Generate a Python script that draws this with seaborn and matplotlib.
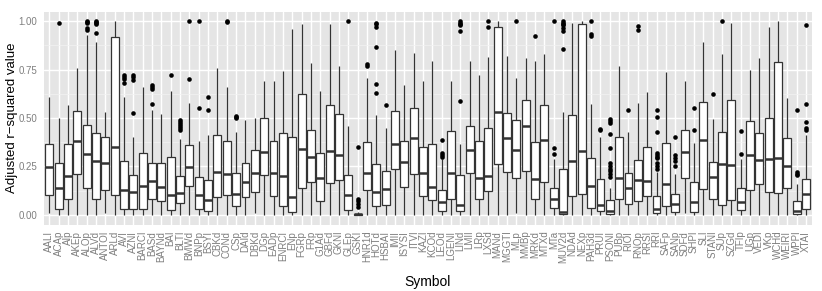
import numpy as np
import pandas as pd
import matplotlib
matplotlib.use("Agg")
import matplotlib.pyplot as plt
import seaborn as sns

symbols = ["AALI", "ACAp", "AIp", "AKEp", "ALOp", "ALVd", "ANTOI", "ARLd", "AVI", "AZNI",
           "BARCI", "BASd", "BAYNd", "BAI", "BLTI", "BMWd", "BNPp", "BSYI", "CBKd", "CONd",
           "CSp", "DAId", "DBKd", "DGp", "EADp", "ENRCI", "ENp", "FGRp", "FRp", "G1Ad",
           "GBFd", "GKNI", "GLEp", "GSKI", "HNR1d", "HOTd", "HSBAI", "IMII", "ISYSI", "ITVI",
           "KAZI", "KCOd", "LEOd", "LGENI", "LINd", "LMII", "LRp", "LXSd", "MANd", "MGGTI",
           "MLp", "MMBp", "MRKd", "MTXd", "MTa", "MUV2d", "NDAd", "NEXp", "PAH3d", "PRUI",
           "PSONI", "PUBp", "RIOI", "RNOp", "RRSI", "RRI", "SAFp", "SANp", "SDFd", "SHPI",
           "SLI", "STANI", "SUp", "SZGd", "TFIp", "UGp", "VEDI", "VKp", "WCHd", "WEIRI",
           "WPPI", "XTAI"]

whisker_low = [0.01, 0.0, 0.0, 0.0, 0.0, 0.0, 0.01, 0.0, 0.0, 0.0,
               0.0, 0.0, 0.0, 0.0, 0.0, 0.0, 0.0, 0.0, 0.0, 0.0,
               0.0, 0.0, 0.01, 0.0, 0.0, 0.0, 0.0, 0.0, 0.0, 0.0,
               0.0, 0.0, 0.0, 0.0, 0.0, 0.0, 0.0, 0.0, 0.0, 0.0,
               0.0, 0.0, 0.0, 0.0, 0.0, 0.0, 0.0, 0.0, 0.0, 0.0,
               0.01, 0.0, 0.0, 0.0, 0.0, 0.0, 0.0, 0.0, 0.0, 0.0,
               0.0, 0.0, 0.0, 0.0, 0.0, 0.0, 0.0, 0.0, 0.01, 0.0,
               0.0, 0.0, 0.0, 0.0, 0.0, 0.0, 0.0, 0.0, 0.0, 0.0,
               0.0, 0.0]
q1 = [0.10, 0.03, 0.08, 0.21, 0.14, 0.08, 0.13, 0.10, 0.03, 0.03,
      0.03, 0.08, 0.07, 0.025, 0.06, 0.15, 0.03, 0.02, 0.09, 0.10,
      0.045, 0.09, 0.117, 0.206, 0.096, 0.048, 0.014, 0.139, 0.167, 0.072,
      0.163, 0.179, 0.027, 0.0, 0.127, 0.045, 0.05, 0.239, 0.146, 0.21,
      0.098, 0.076, 0.019, 0.082, 0.019, 0.218, 0.08, 0.125, 0.263, 0.223,
      0.192, 0.228, 0.082, 0.167, 0.036, 0.003, 0.098, 0.108, 0.033, 0.02,
      0.005, 0.08, 0.055, 0.072, 0.098, 0.009, 0.048, 0.015, 0.189, 0.012,
      0.132, 0.08, 0.05, 0.076, 0.026, 0.127, 0.16, 0.117, 0.115, 0.139,
      0.002, 0.029]
median = [0.245, 0.14, 0.20, 0.38, 0.315, 0.28, 0.27, 0.35, 0.13, 0.12,
          0.15, 0.175, 0.145, 0.10, 0.115, 0.245, 0.10, 0.075, 0.22, 0.21,
          0.105, 0.172, 0.216, 0.325, 0.215, 0.20, 0.093, 0.34, 0.30, 0.19,
          0.328, 0.31, 0.10, 0.002, 0.218, 0.117, 0.134, 0.366, 0.273, 0.395,
          0.215, 0.144, 0.065, 0.215, 0.053, 0.337, 0.19, 0.198, 0.533, 0.397,
          0.335, 0.457, 0.184, 0.385, 0.081, 0.017, 0.278, 0.33, 0.151, 0.053,
          0.022, 0.189, 0.136, 0.179, 0.175, 0.031, 0.158, 0.055, 0.323, 0.065,
          0.385, 0.194, 0.26, 0.256, 0.064, 0.308, 0.284, 0.29, 0.294, 0.253,
          0.022, 0.108]
q3 = [0.365, 0.27, 0.365, 0.535, 0.465, 0.42, 0.40, 0.92, 0.28, 0.205,
      0.32, 0.27, 0.27, 0.30, 0.20, 0.36, 0.195, 0.18, 0.41, 0.38,
      0.215, 0.266, 0.333, 0.498, 0.38, 0.42, 0.404, 0.622, 0.44, 0.318,
      0.565, 0.52, 0.206, 0.005, 0.378, 0.263, 0.225, 0.536, 0.38, 0.55,
      0.35, 0.368, 0.127, 0.433, 0.204, 0.459, 0.38, 0.448, 0.971, 0.526,
      0.488, 0.593, 0.378, 0.569, 0.141, 0.237, 0.517, 0.988, 0.292, 0.186,
      0.074, 0.404, 0.215, 0.282, 0.349, 0.095, 0.371, 0.108, 0.44, 0.167,
      0.584, 0.275, 0.426, 0.591, 0.137, 0.485, 0.423, 0.50, 0.79, 0.395,
      0.072, 0.184]
whisker_high = [0.61, 0.50, 0.565, 0.76, 0.93, 0.89, 0.53, 1.0, 0.61, 0.40,
                0.66, 0.54, 0.52, 0.64, 0.39, 0.58, 0.38, 0.41, 0.76, 0.66,
                0.43, 0.49, 0.50, 0.69, 0.69, 0.745, 0.96, 0.985, 0.785, 0.64,
                0.985, 0.766, 0.457, 0.012, 0.706, 0.514, 0.45, 0.85, 0.668, 0.837,
                0.69, 0.794, 0.29, 0.692, 0.366, 0.792, 0.72, 0.813, 1.0, 0.82,
                0.704, 0.81, 0.794, 0.83, 0.287, 0.533, 0.993, 1.0, 0.572, 0.402,
                0.137, 0.771, 0.43, 0.576, 0.634, 0.22, 0.737, 0.21, 0.69, 0.371,
                0.892, 0.497, 0.83, 0.991, 0.29, 0.746, 0.811, 0.971, 1.0, 0.603,
                0.158, 0.414]
outliers = {
    "ACAp": [0.99],
    "ALOp": [1.0, 0.995, 0.99, 0.965, 0.955],
    "ALVd": [1.0, 0.995, 0.99, 0.985, 0.94],
    "AVI": [0.72, 0.71, 0.70, 0.68],
    "AZNI": [0.72, 0.71, 0.695, 0.525],
    "BASd": [0.67, 0.66, 0.65, 0.57],
    "BAI": [0.72],
    "BLTI": [0.49, 0.48, 0.47, 0.46, 0.45, 0.44],
    "BMWd": [1.0, 0.70],
    "BNPp": [1.0, 0.55],
    "BSYI": [0.61, 0.54],
    "CONd": [1.0, 0.995],
    "CSp": [0.51, 0.505, 0.50],
    "GLEp": [1.0],
    "GSKI": [0.35, 0.082, 0.069, 0.055, 0.04],
    "HNR1d": [0.777, 0.77],
    "HOTd": [0.991, 0.983, 0.971, 0.869, 0.674, 0.631],
    "HSBAI": [0.567],
    "LEOd": [0.385, 0.32, 0.31, 0.30],
    "LINd": [1.0, 0.993, 0.988, 0.978, 0.948, 0.588],
    "LXSd": [1.0, 0.971],
    "MLp": [1.0],
    "MRKd": [0.923],
    "MTa": [1.0, 0.347, 0.313],
    "MUV2d": [1.0, 0.993, 0.986, 0.979, 0.967, 0.948, 0.854],
    "PAH3d": [1.0, 0.935, 0.923],
    "PRUI": [0.445, 0.44],
    "PSONI": [0.495, 0.485, 0.473, 0.416, 0.347, 0.266, 0.253, 0.239, 0.225, 0.21, 0.194],
    "RIOI": [0.543],
    "RNOp": [0.975, 0.957],
    "RRI": [0.543, 0.503, 0.43, 0.32, 0.31, 0.30, 0.294, 0.266, 0.254, 0.237],
    "SANp": [0.40, 0.31, 0.295, 0.28, 0.25],
    "SHPI": [0.552, 0.44],
    "STANI": [0.625],
    "SUp": [1.0],
    "TFIp": [0.433, 0.315],
    "WPPI": [0.543, 0.222, 0.213, 0.204],
    "XTAI": [0.979, 0.572, 0.478, 0.45, 0.438],
}

# long-form table: five summary values per symbol (min whisker, Q1, median, Q3, max whisker)
rows = []
for s, a, b, c, d, e in zip(symbols, whisker_low, q1, median, q3, whisker_high):
    for v in (a, b, c, d, e):
        rows.append((s, v))
box_df = pd.DataFrame(rows, columns=["Symbol", "value"])
out_df = pd.DataFrame([(s, v) for s, vs in outliers.items() for v in vs],
                      columns=["Symbol", "value"])

sns.set_theme(style="darkgrid", rc={"axes.facecolor": "#E5E5E5", "grid.color": "white"})
plt.rcParams["font.family"] = ["Liberation Sans", "DejaVu Sans"]

fig = plt.figure(figsize=(8.22, 2.91), dpi=100)
ax = fig.add_axes([43.7 / 822, 1 - 224.5 / 291, (811.6 - 43.7) / 822, (224.5 - 11.5) / 291])

line_col = "#333333"
sns.boxplot(data=box_df, x="Symbol", y="value", order=symbols, whis=(0, 100),
            width=0.85, showfliers=False, ax=ax, color="white", linecolor=line_col,
            linewidth=0.9, saturation=1,
            medianprops=dict(linewidth=1.8, color=line_col),
            whiskerprops=dict(color=line_col, linewidth=0.9),
            capprops=dict(linewidth=0))
sns.stripplot(data=out_df, x="Symbol", y="value", order=symbols, jitter=False,
              color="black", size=3.3, linewidth=0, ax=ax)

ax.set_xlim(-0.6, len(symbols) - 0.4)
ax.set_ylim(-0.05, 1.05)
ax.set_yticks([0, 0.25, 0.5, 0.75, 1.0])
ax.set_yticklabels(["0.00", "0.25", "0.50", "0.75", "1.00"])
ax.set_yticks([0.125, 0.375, 0.625, 0.875], minor=True)
ax.grid(which="major", color="white", linewidth=1.0)
ax.grid(which="minor", axis="y", color="#F2F2F2", linewidth=0.5)
ax.set_axisbelow(True)
for sp in ax.spines.values():
    sp.set_visible(False)

ax.tick_params(axis="both", which="major", length=3, width=0.8, color="#7F7F7F",
               labelcolor="#7F7F7F", labelsize=7, pad=1.5, direction="out")
ax.tick_params(axis="y", which="minor", length=0)
plt.setp(ax.get_xticklabels(), rotation=90, ha="center", va="top")

ax.set_xlabel("Symbol", fontsize=10, color="black")
ax.set_ylabel("Adjusted r\u2212squared value", fontsize=9.5, color="black")
ax.xaxis.set_label_coords(0.5, (224.5 - 282) / 213.0)
ax.yaxis.set_label_coords((12.5 - 43.7) / 767.9, 0.5)
ax.xaxis.label.set_va("center")
ax.yaxis.label.set_va("center")

fig.savefig("out.png", dpi=100)
